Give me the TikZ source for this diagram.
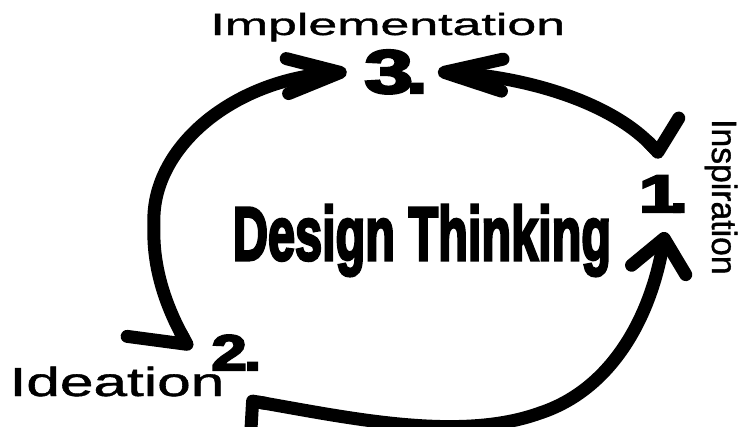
\documentclass[tikz,border=0pt]{standalone}
\usepackage{fontspec}
\usepackage{graphicx}
\setmainfont{Liberation Sans}
\newfontfamily\labelfont[FakeBold=1]{Liberation Sans}
\newfontfamily\heavyfont[FakeBold=4]{Liberation Sans Bold}
\usetikzlibrary{arrows.meta,calc}
% stage number: size, horizontal scale of the digit, digit, kern before the dot
\newcommand{\stagenum}[4]{{\heavyfont\fontsize{#1}{#1}\selectfont\scalebox{#2}[1]{#3}\kern#4\scalebox{1.2}[1]{.}}}
\tikzset{
  word/.style={inner sep=0pt, anchor=base west},
  numeral/.style={inner sep=0pt, anchor=base},
  loop line/.style={line width=13pt, line cap=round, line join=round}
}
\begin{document}
\begin{tikzpicture}[x=1pt,y=-1pt]
\useasboundingbox (0,0) rectangle (742,426);
\clip (0,0) rectangle (742,426);

% stage labels
\node[word] (impl) at (210.2,35) {\labelfont\fontsize{30.7pt}{36pt}\selectfont\scalebox{1.69}[1]{Implementation}};
\node[word] (idea) at (9.4,396) {\labelfont\fontsize{40.5pt}{48pt}\selectfont\scalebox{1.49}[1]{Ideation}};
\node[word, rotate=-90] (insp) at (712,118.9) {\labelfont\fontsize{35pt}{42pt}\selectfont\scalebox{0.963}[1]{Inspiration}};

% title and stage numbers
\node[numeral] (title) at (422,260) {\resizebox{378pt}{55pt}{\heavyfont Design Thinking}};
\node[numeral] (n3) at (395.8,93) {\stagenum{61.4pt}{1.42}{3}{-6.3pt}};
\node[numeral] (n1) at (663.2,212) {\stagenum{52.9pt}{1.45}{1}{-11.4pt}};
\node[numeral] (n2) at (236.2,370) {\stagenum{50pt}{1.27}{2}{-2.5pt}};

% arrow ends around the numbers
\coordinate (n3w) at ($(n3.base)+(-49,-21)$);
\coordinate (n3e) at ($(n3.base)+(42,-21)$);
\coordinate (n1n) at ($(n1.base)+(-1,-55)$);
\coordinate (n1s) at ($(n1.base)+(2,20)$);
\coordinate (n2n) at ($(n2.base)+(-46,-20)$);
\coordinate (n2s) at ($(n2.base)+(10,30)$);

% left arc: 2 -> 3
\draw[loop line, {Straight Barb[right, round, length=36pt, width=97pt]}-{Straight Barb[round, length=53pt, width=35pt]}]
  (n2n) .. controls (168,310) and (152,270) .. (154,225)
        .. controls (150,150) and (230,80) .. (n3w);

% right arc: 3 -> 1
\draw[loop line, {Straight Barb[round, length=58pt, width=32pt]}-{Straight Barb[left, round, length=11pt, width=77pt]}]
  (n3e) .. controls (520,76) and (610,100) .. (n1n);

% bottom arc: 2 -> 1
\draw[loop line, {Straight Barb[left, round, length=4.6pt, width=80pt]}-{Straight Barb[round, length=32pt, width=55pt]}]
  (n2s) .. controls (350,418) and (460,442) .. (540,413)
        .. controls (610,390) and (650,320) .. (n1s);
\end{tikzpicture}
\end{document}
